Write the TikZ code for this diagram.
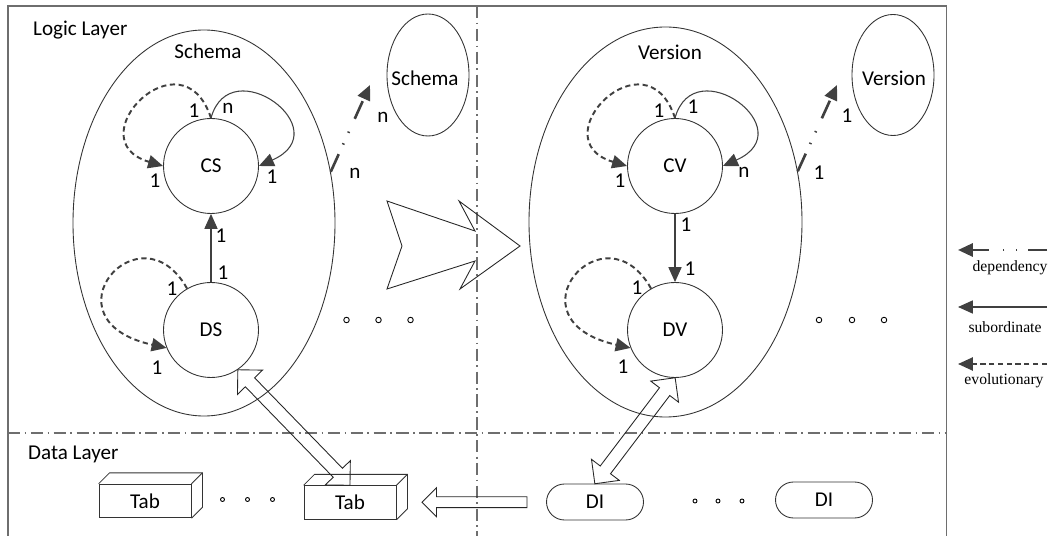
\documentclass[tikz,border=0pt]{standalone}
\usepackage{fontspec}
\setmainfont{Carlito}
\newfontfamily\legendfont{Liberation Serif}
\usepackage{tikz}
\usetikzlibrary{shapes.geometric,shapes.arrows,arrows.meta}

\definecolor{linegray}{HTML}{404040}
\definecolor{framegray}{HTML}{6E6E6E}

\begin{document}
\begin{tikzpicture}[
    font=\fontsize{12}{14}\selectfont,
    entity/.style={circle, draw=black!80, line width=0.5pt, minimum size=1.9cm, inner sep=0pt},
    group/.style={ellipse, draw=black!80, line width=0.5pt, inner sep=0pt},
    tabbox/.style={rectangle, draw=black!80, line width=0.5pt, minimum width=1.84cm, minimum height=0.67cm},
    instance/.style={rectangle, rounded corners=0.36cm, draw=black!80, line width=0.5pt, minimum width=1.94cm, minimum height=0.72cm},
    mult/.style={inner sep=0pt},
    sub/.style={-{Triangle[length=8.5pt,width=7.5pt]}, draw=linegray, line width=0.6pt},
    evo/.style={-{Triangle[length=8.5pt,width=7.5pt]}, draw=linegray, line width=1.1pt, dash pattern=on 3pt off 2pt},
    dep/.style={-{Triangle[length=8.5pt,width=7.5pt]}, draw=linegray, line width=1.5pt, dash pattern=on 11pt off 6pt on 0.8pt off 6.5pt on 0.8pt off 8pt},
    hollow/.style={draw=black!85, line width=0.5pt, inner xsep=0pt},
    dblarrow/.style={hollow, double arrow, inner ysep=0.12cm, double arrow head extend=0.22cm},
    onearrow/.style={hollow, single arrow, inner ysep=0.1cm, single arrow head extend=0.18cm},
    layer/.style={draw=framegray, line width=0.7pt, dash pattern=on 7pt off 2.5pt on 1pt off 2.5pt},
    legend/.style={font=\legendfont\fontsize{8.9}{10}\selectfont},
]
\useasboundingbox (0,0) rectangle (21.02,-10.72);

% Frame and layers
\draw[draw=framegray, line width=0.7pt] (0.16,-10.72) -- (0.16,-0.12) -- (18.93,-0.12) -- (18.93,-10.72);
\draw[layer] (0.16,-8.66) -- (18.93,-8.66);
\draw[layer] (9.54,-0.12) -- (9.54,-10.72);
\node[anchor=west] (logic) at (0.54,-0.6) {Logic Layer};
\node[anchor=west] (data) at (0.44,-9.08) {Data Layer};

% Nodes
\node[group, minimum width=5.24cm, minimum height=7.72cm] (schema) at (4.08,-4.46) {};
\node (schemaT) at (4.16,-1.02) {Schema};
\node[entity] (CS) at (4.22,-3.32) {CS};
\node[entity] (DS) at (4.22,-6.6) {DS};
\node[group, minimum width=1.64cm, minimum height=2.44cm] (schema2) at (8.56,-1.5) {};
\node (schema2T) at (8.5,-1.56) {Schema};
\coordinate (schemaTip) at (7.4,-1.7);

\node[group, minimum width=5.46cm, minimum height=7.8cm] (version) at (13.31,-4.44) {};
\node (versionT) at (13.4,-1.04) {Version};
\node[entity] (CV) at (13.5,-3.32) {CV};
\node[entity] (DV) at (13.5,-6.6) {DV};
\node[group, minimum width=1.64cm, minimum height=2.42cm] (version2) at (17.86,-1.5) {};
\node (version2T) at (17.88,-1.56) {Version};
\coordinate (versionTip) at (16.74,-1.7);

\node[tabbox] (tabA) at (2.9,-10.02) {Tab};
\node[tabbox] (tabB) at (7.0,-10.05) {Tab};
\node[instance] (diA) at (11.9,-10.04) {DI};
\node[instance] (diB) at (16.48,-10.0) {DI};
\foreach \t in {tabA,tabB} {
    \draw[draw=black!80, line width=0.5pt] (\t.north west) -- ++(0.22,0.22) -| ([shift={(0.22,0.22)}]\t.south east) -- (\t.south east);
    \draw[draw=black!80, line width=0.5pt] (\t.north east) -- ++(0.22,0.22);
}

% dots
\foreach \x in {6.93,7.57,8.21,16.38,17.04,17.68}
    \draw[line width=0.5pt] (\x,-6.4) circle (0.055);
\foreach \x in {4.45,4.95,5.45}
    \draw[line width=0.5pt] (\x,-9.99) circle (0.04);
\foreach \x in {13.9,14.36,14.84}
    \draw[line width=0.5pt] (\x,-10.02) circle (0.04);

% big arrow
\draw[hollow] (7.74,-4.02) -- (9.5,-4.62) -- (9.18,-4.02) -- (10.4,-4.92) -- (9.2,-5.78) -- (9.5,-5.22) -- (7.74,-5.78) -- (8.04,-4.92) -- cycle;

% Edges
\draw[evo] (CS.north) .. controls +(-0.58,1.76) and +(-1.76,0.52) .. (CS.west);
\draw[sub] (CS.north) .. controls +(0.38,1.38) and +(1.62,0.72) .. (CS.east);
\draw[sub] (DS) -- (CS);
\draw[evo] (DS.120) .. controls +(-0.94,1.68) and +(-2.52,0.56) .. (DS.202);
\draw[dep] (schema.22) -- (schemaTip);

\draw[evo] (CV.north) .. controls +(-0.58,1.76) and +(-1.76,0.52) .. (CV.west);
\draw[sub] (CV.north) .. controls +(0.38,1.38) and +(1.62,0.72) .. (CV.east);
\draw[sub] (CV) -- (DV);
\draw[evo] (DV.120) .. controls +(-0.94,1.68) and +(-2.52,0.56) .. (DV.202);
\draw[dep] (version.21) -- (versionTip);

\path (DS.-56) -- (tabB.north) node[dblarrow, midway, sloped, minimum height=3.22cm] (dsLink) {};
\path (DV.south) -- (diA.north) node[dblarrow, midway, sloped, minimum height=2.66cm] (dvLink) {};
\path (diA.west) -- (tabB.east) node[onearrow, pos=0.46, rotate=180, minimum height=2.1cm] (diLink) {};

% multiplicities
\node[mult] (m1) at (3.88,-2.22) {1};
\node[mult] (m2) at (4.56,-2.16) {n};
\node[mult] (m3) at (3.1,-3.62) {1};
\node[mult] (m4) at (5.44,-3.54) {1};
\node[mult] (m5) at (4.42,-4.72) {1};
\node[mult] (m6) at (4.46,-5.46) {1};
\node[mult] (m7) at (3.44,-5.78) {1};
\node[mult] (m8) at (3.14,-7.36) {1};
\node[mult] (m9) at (7.1,-3.46) {n};
\node[mult] (m10) at (7.66,-2.34) {n};
\node[mult] (m11) at (13.18,-2.22) {1};
\node[mult] (m12) at (13.86,-2.14) {1};
\node[mult] (m13) at (12.4,-3.62) {1};
\node[mult] (m14) at (14.88,-3.44) {n};
\node[mult] (m15) at (13.72,-4.5) {1};
\node[mult] (m16) at (13.8,-5.38) {1};
\node[mult] (m17) at (12.74,-5.76) {1};
\node[mult] (m18) at (12.46,-7.34) {1};
\node[mult] (m19) at (16.38,-3.46) {1};
\node[mult] (m20) at (16.94,-2.32) {1};

% legend
\coordinate (depR) at (20.94,-5.0);
\coordinate (depL) at (19.16,-5.0);
\coordinate (subR) at (20.94,-6.14);
\coordinate (subL) at (19.16,-6.14);
\coordinate (evoR) at (20.94,-7.28);
\coordinate (evoL) at (19.16,-7.28);
\draw[dep] (depR) -- (depL);
\draw[sub] (subR) -- (subL);
\draw[evo] (evoR) -- (evoL);
\node[legend] (depT) at (20.2,-5.36) {dependency};
\node[legend] (subT) at (20.1,-6.54) {subordinate};
\node[legend] (evoT) at (20.08,-7.62) {evolutionary};
\end{tikzpicture}
\end{document}
